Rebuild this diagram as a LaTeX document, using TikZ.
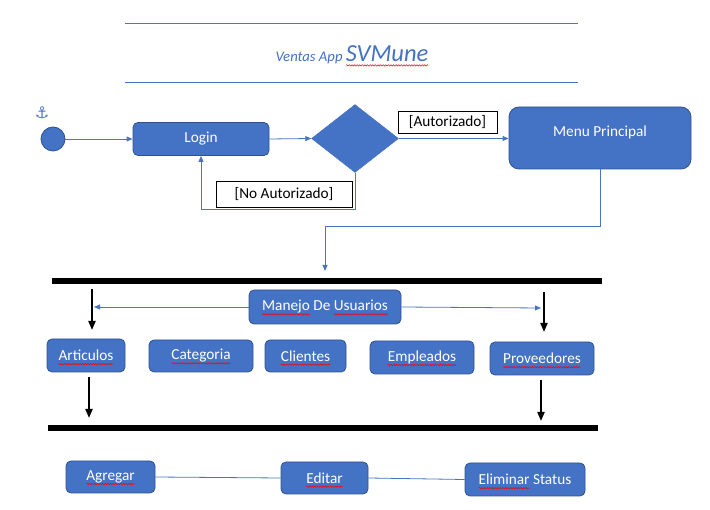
\documentclass[tikz,border=0pt]{standalone}
\usepackage{fontspec}
\setmainfont{Carlito}
\newfontfamily\symfont{DejaVu Sans}
\usetikzlibrary{shapes.geometric,arrows.meta,decorations.pathmorphing}
\definecolor{boxblue}{HTML}{4472C4}
\definecolor{boxedge}{HTML}{2F528F}
\definecolor{lineblue}{HTML}{4A74C0}
\newcommand{\wavy}[1]{\setbox0\hbox{#1}\rlap{\tikz[overlay]\draw[draw=red,line width=0.5pt,sharp corners,decorate,decoration={snake,amplitude=0.7pt,segment length=2.6pt}] (0pt,-3.4pt) -- (\wd0,-3.4pt);}#1}
\tikzset{
  box/.style={fill=boxblue,draw=boxedge,line width=0.8pt,rounded corners=5pt,text=white,inner sep=0pt,font=\fontsize{15.3}{18}\selectfont},
  lbl/.style={fill=white,draw=black,line width=0.7pt,inner sep=0pt,font=\fontsize{15.3}{18}\selectfont},
  conn/.style={draw=lineblue,line width=0.8pt,-{Triangle[length=6pt,width=5pt]}},
  plain/.style={draw=lineblue,line width=0.8pt},
  barrow/.style={draw=black,line width=2pt,-{Triangle[length=9pt,width=7pt]}},
  bar/.style={fill=black,inner sep=0pt,minimum height=5.5pt}
}
\begin{document}
\begin{tikzpicture}[x=1pt,y=-1pt]
\useasboundingbox (0,0) rectangle (710,510);
% title
\draw[plain] (125,23) -- (578,23);
\draw[plain] (125,82) -- (578,82);
\node[anchor=base,text=boxblue,inner sep=0pt] (title) at (352,62) {\itshape\fontsize{14.7}{17}\selectfont Ventas App \fontsize{24.5}{28}\selectfont\wavy{SVMune}};
% start
\node[text=boxblue,font=\symfont\fontsize{16}{18}\selectfont,inner sep=0pt] (anchorsym) at (42,113) {⚓};
\node[circle,fill=boxblue,draw=boxedge,line width=0.8pt,minimum size=24pt,inner sep=0pt] (start) at (53,139) {};
\node[box,minimum width=136pt,minimum height=33pt] (login) at (201,139) {Login};
\node[diamond,fill=boxblue,draw=boxblue,inner sep=0pt,minimum width=87pt,minimum height=68pt] (dec) at (355,138.5) {};
\node[box,rounded corners=10pt,minimum width=182pt,minimum height=62pt] (menu) at (600,138) {};
\node[text=white,inner sep=0pt,font=\fontsize{15.3}{18}\selectfont] (menutext) at (600,132) {Menu Principal};
\node[lbl,minimum width=99pt,minimum height=22pt] (aut) at (447.5,122.5) {[Autorizado]};
\node[lbl,minimum width=136pt,minimum height=26pt] (noaut) at (284,194) {[No Autorizado]};
\draw[conn] (start.east) -- (login.west);
\draw[conn] (login.east) -- (dec.west);
\draw[conn] (dec.east) -- (menu.west |- dec.east);
\coordinate (loopc) at (355,209);
\draw[conn] (dec.south) -- (loopc) -| (login.south);
% to first bar
\node[bar,minimum width=550pt] (bar1) at (327,281) {};
\coordinate (turn) at (325,226);
\coordinate (drop) at (325,271);
\draw[plain] (menu.south) |- (turn);
\draw[conn] (turn) -- (drop);
% black arrows upper
\coordinate (a1s) at (92,289); \coordinate (a1e) at (92,330);
\coordinate (a2s) at (544,292); \coordinate (a2e) at (544,332);
\draw[barrow] (a1s) -- (a1e);
\draw[barrow] (a2s) -- (a2e);
% manejo
\node[box,minimum width=152pt,minimum height=34pt] (man) at (325,307) {\wavy{Manejo} De \wavy{Usuarios}};
\coordinate (manl) at (94,307);
\coordinate (manr) at (541,308);
\draw[conn] (man.west) -- (manl);
\draw[conn] (man.east) -- (manr);
% row boxes
\node[box,minimum width=78pt,minimum height=33pt] (art) at (86,355.5) {\wavy{Articulos}};
\node[box,minimum width=104pt,minimum height=32pt] (cat) at (201,356) {\wavy{Categoria}};
\node[box,minimum width=81pt,minimum height=32pt] (cli) at (305.5,356) {\wavy{Clientes}};
\node[box,minimum width=104pt,minimum height=33pt] (emp) at (422,357.5) {\wavy{Empleados}};
\node[box,minimum width=104pt,minimum height=33pt] (prov) at (542,358.5) {\wavy{Proveedores}};
% black arrows lower
\coordinate (b1s) at (89,377); \coordinate (b1e) at (89,418);
\coordinate (b2s) at (541,380); \coordinate (b2e) at (541,421);
\draw[barrow] (b1s) -- (b1e);
\draw[barrow] (b2s) -- (b2e);
\node[bar,minimum width=550pt] (bar2) at (323,428) {};
% bottom boxes
\node[box,minimum width=89pt,minimum height=32pt] (agr) at (110.5,477) {\wavy{Agregar}};
\node[box,minimum width=87pt,minimum height=32pt] (edi) at (324.5,478) {\wavy{Editar}};
\node[box,minimum width=120pt,minimum height=33pt] (eli) at (525,479.5) {\wavy{Eliminar} Status};
\draw[plain] (agr.east) -- (edi.west);
\draw[plain] (edi.east) -- (eli.west);
\end{tikzpicture}
\end{document}
